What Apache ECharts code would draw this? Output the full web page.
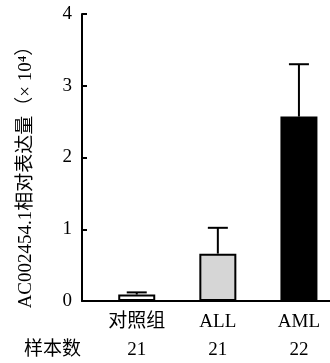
<!DOCTYPE html>
<html>
<head>
<meta charset="utf-8">
<script src="https://cdn.jsdelivr.net/npm/echarts@6/dist/echarts.min.js"></script>
<style>html,body{margin:0;padding:0;background:#fff}#c{width:330px;height:363px}</style>
</head>
<body>
<div id="c"></div>
<script>
var categories = ['对照组', 'ALL', 'AML'];
var sampleCounts = ['21', '21', '22'];
var means = [0.09, 0.66, 2.57];
var errors = [0.03, 0.36, 0.73];
var yTicks = [0, 1, 2, 3, 4];
var barColors = ['#ffffff', '#d6d6d6', '#000000'];

var serif = "'Liberation Serif', 'Times New Roman', 'Noto Sans CJK SC', serif";
var chart = echarts.init(document.getElementById('c'));

var barData = means.map(function (v, i) {
  return { value: [i, v], itemStyle: { color: barColors[i] } };
});
var errData = means.map(function (v, i) { return [i, v, v + errors[i]]; });

chart.setOption({
  animation: false,
  backgroundColor: '#fff',
  title: {
    text: '样本数', left: 19, top: 336,
    textStyle: { fontFamily: serif, fontSize: 19, fontWeight: 'normal', color: '#000' }
  },
  grid: { left: 82, right: 0, top: 14, bottom: 62 },
  xAxis: {
    type: 'value', min: -0.675, max: 2.383,
    splitLine: { show: false },
    axisLine: { show: true, onZero: false, lineStyle: { color: '#000', width: 2 } },
    axisTick: { show: false },
    axisLabel: {
      customValues: [0, 1, 2],
      margin: 7,
      formatter: function (v) {
        var i = Math.round(v);
        return '{c|' + categories[i] + '}\n{n|' + sampleCounts[i] + '}';
      },
      rich: {
        c: { fontFamily: serif, fontSize: 19, lineHeight: 28, color: '#000' },
        n: { fontFamily: serif, fontSize: 19, lineHeight: 28, color: '#000' }
      }
    }
  },
  yAxis: {
    type: 'value', min: 0, max: 4, interval: 1,
    splitLine: { show: false },
    axisLine: { show: true, onZero: false, lineStyle: { color: '#000', width: 2 } },
    axisTick: { show: true, inside: true, length: 5, lineStyle: { color: '#000', width: 2 } },
    axisLabel: {
      margin: 10, fontFamily: serif, fontSize: 19, color: '#000',
      formatter: function (v) { return yTicks.indexOf(v) >= 0 ? String(v) : ''; }
    },
    name: 'AC002454.1相对表达量（× 10⁴）',
    nameLocation: 'middle',
    nameGap: 46,
    nameTextStyle: { fontFamily: serif, fontSize: 19, color: '#000', padding: [0, 30, 0, 0] }
  },
  series: [
    {
      type: 'bar',
      data: barData,
      barWidth: 37,
      itemStyle: { borderColor: '#000', borderWidth: 2 }
    },
    {
      type: 'custom',
      data: errData,
      z: 1,
      renderItem: function (params, api) {
        var x = api.value(0);
        var p0 = api.coord([x, api.value(1)]);
        var p1 = api.coord([x, api.value(2)]);
        var s = { stroke: '#000', lineWidth: 2 };
        return {
          type: 'group',
          children: [
            { type: 'line', shape: { x1: p0[0], y1: p0[1], x2: p1[0], y2: p1[1] }, style: s },
            { type: 'line', shape: { x1: p1[0] - 10, y1: p1[1], x2: p1[0] + 10, y2: p1[1] }, style: s }
          ]
        };
      }
    }
  ]
});
</script>
</body>
</html>
